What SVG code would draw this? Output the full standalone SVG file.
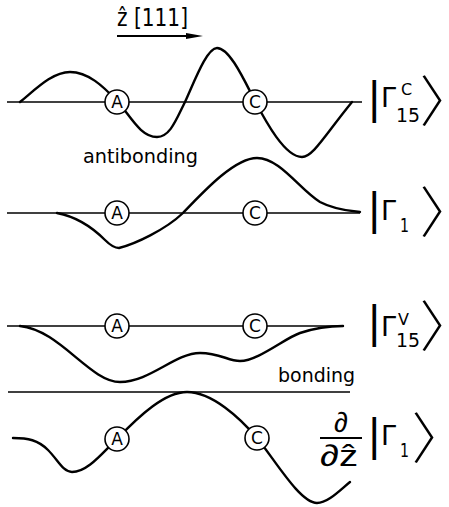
<svg xmlns="http://www.w3.org/2000/svg" width="449" height="507" viewBox="0 0 449 507">
<style>
.axis{stroke:#000;stroke-width:1.4;fill:none}
.wave{stroke:#000;stroke-width:2.4;fill:none;stroke-linecap:round;stroke-linejoin:round}
.atom circle{fill:#fff;stroke:#000;stroke-width:1.6}
.atom text{font-family:"DejaVu Sans","Liberation Sans",sans-serif;font-size:17px;text-anchor:middle;fill:#000}
.t{font-family:"DejaVu Sans","Liberation Sans",sans-serif;fill:#000}
.bar{font-size:43px}
.gam{font-size:27px}
.sup{font-size:16px}
.sub{font-size:20px}
.ket{font-family:"Noto Sans CJK JP","Noto Sans CJK SC",sans-serif;font-size:50px;font-weight:300;font-feature-settings:"palt"}
</style>
<rect width="449" height="507" fill="#fff"/>

<g id="direction">
<text class="t" x="117" y="26" font-size="25" textLength="71" lengthAdjust="spacingAndGlyphs">ẑ [111]</text>
<line x1="117" y1="36" x2="192" y2="36" stroke="#000" stroke-width="1.8"/>
<polygon points="186,33 203,36 186,39" fill="#000"/>
</g>

<g id="connectors">
<line class="axis" x1="7" y1="102" x2="362" y2="102"/>
<line class="axis" x1="7" y1="213" x2="360" y2="213"/>
<line class="axis" x1="7" y1="326" x2="343" y2="326"/>
<line class="axis" x1="8" y1="392" x2="350" y2="392"/>
<path class="wave" d="M20,102 C35,90 52,72 70,72 C88,72 103,86 117,101 C130,115 140,137 157,137 C170,137 176,120 185,102 C195,80 207,48 217,48 C230,48 245,82 255,101 C266,122 285,157 302,157 C313,157 325,135 352,102"/>
<path class="wave" d="M57,213 C78,217 95,230 105,240 C110,245 114,248 119,248 C135,244 165,230 183,213 C205,190 235,158 257,158 C280,158 300,190 320,202 C335,210 350,211 360,212"/>
<path class="wave" d="M20,326 C60,330 90,382 120,382 C150,382 175,353 200,353 C220,353 228,361 240,361 C258,361 285,338 300,333 C318,327 330,326 343,326"/>
<path class="wave" d="M13,438 C28,438 38,440 48,450 C58,460 63,472 72,472 C88,472 103,452 117,439 C140,415 165,392 187,392 C212,392 240,418 257,438 C275,460 300,503 317,503 C328,503 340,490 350,482"/>
</g>

<g id="atoms-1" class="atom">
<circle cx="117" cy="102" r="12"/><text x="117" y="108">A</text>
<circle cx="255" cy="102" r="12"/><text x="255" y="108">C</text>
</g>
<g id="atoms-2" class="atom">
<circle cx="117" cy="213" r="12"/><text x="117" y="219">A</text>
<circle cx="255" cy="213" r="12"/><text x="255" y="219">C</text>
</g>
<g id="atoms-3" class="atom">
<circle cx="117" cy="326" r="12"/><text x="117" y="332">A</text>
<circle cx="255" cy="326" r="12"/><text x="255" y="332">C</text>
</g>
<g id="atoms-4" class="atom">
<circle cx="117" cy="439" r="12"/><text x="117" y="445">A</text>
<circle cx="257" cy="438" r="12"/><text x="257" y="444">C</text>
</g>

<g id="label-antibonding">
<text class="t" x="83" y="163" font-size="20" textLength="115" lengthAdjust="spacingAndGlyphs">antibonding</text>
</g>
<g id="label-bonding">
<text class="t" x="278" y="382" font-size="20" textLength="77" lengthAdjust="spacingAndGlyphs">bonding</text>
</g>

<g id="ket-G15c" class="t">
<text class="bar" x="367" y="113">|</text>
<text class="gam" x="381" y="107">Γ</text>
<text class="sup" x="401" y="95">C</text>
<text class="sub" x="396" y="122" textLength="24" lengthAdjust="spacingAndGlyphs">15</text>
<text class="ket" transform="translate(421,121) scale(1.1,1.1)">〉</text>
</g>
<g id="ket-G1" class="t">
<text class="bar" x="367" y="224">|</text>
<text class="gam" x="381" y="220">Γ</text>
<text class="sub" x="400" y="232" textLength="9" lengthAdjust="spacingAndGlyphs">1</text>
<text class="ket" transform="translate(421,232) scale(1.1,1.1)">〉</text>
</g>
<g id="ket-G15v" class="t">
<text class="bar" x="367" y="337">|</text>
<text class="gam" x="381" y="336">Γ</text>
<text class="sup" x="398" y="325">V</text>
<text class="sub" x="396" y="347" textLength="24" lengthAdjust="spacingAndGlyphs">15</text>
<text class="ket" transform="translate(421,346) scale(1.1,1.1)">〉</text>
</g>
<g id="ket-dG1" class="t">
<text x="341" y="432" font-family="Liberation Sans" font-size="28" text-anchor="middle">∂</text>
<line x1="320" y1="438" x2="362" y2="438" stroke="#000" stroke-width="2"/>
<text x="320" y="466" font-family="Liberation Sans" font-size="30" textLength="38" lengthAdjust="spacingAndGlyphs">∂ẑ</text>
<text class="bar" x="367" y="450">|</text>
<text class="gam" x="381" y="445">Γ</text>
<text class="sub" x="400" y="457" textLength="9" lengthAdjust="spacingAndGlyphs">1</text>
<text class="ket" transform="translate(413,458) scale(1.1,1.1)">〉</text>
</g>
</svg>
